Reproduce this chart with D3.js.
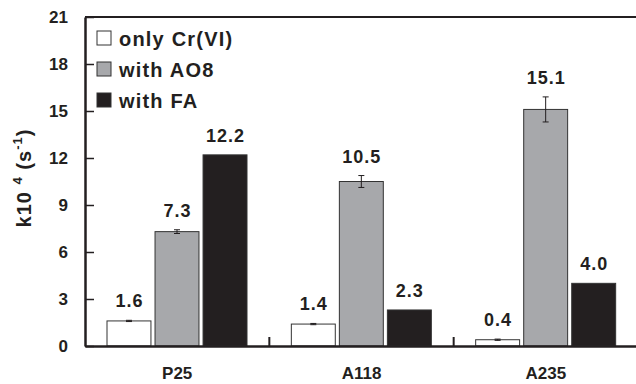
<!DOCTYPE html>
<html>
<head>
<meta charset="utf-8">
<script src="https://cdn.jsdelivr.net/npm/d3@7"></script>
<style>
  body { margin: 0; background: #fff; }
  text { font-family: "Liberation Sans", Arial, sans-serif; font-weight: bold; fill: #231f20; }
</style>
</head>
<body>
<svg id="chart" width="636" height="384"></svg>
<script>
// data
var categories = ["P25", "A118", "A235"];
var series = ["only Cr(VI)", "with AO8", "with FA"];
var onlyCr = [1.6, 1.4, 0.4];
var withAO8 = [7.3, 10.5, 15.1];
var withFA = [12.2, 2.3, 4.0];
var errOnlyCr = [0.04, 0.04, 0.04];
var errAO8 = [0.12, 0.38, 0.8];
var errFA = [0, 0, 0];
var yTicks = [0, 3, 6, 9, 12, 15, 18, 21];

var colors = ["#ffffff", "#a7a8ab", "#231f20"];
var values = [onlyCr, withAO8, withFA];
var errors = [errOnlyCr, errAO8, errFA];

var svg = d3.select("#chart");
var plotLeft = 85, plotTop = 17, plotBottom = 346, plotRight = 638;

var x0 = d3.scaleBand().domain(categories).range([plotLeft, plotRight]).padding(0);
var x1 = d3.scaleBand().domain(series).range([22, 162]).paddingInner(0.085);
var y = d3.scaleLinear().domain([0, 21]).range([plotBottom, plotTop]);

// frame: top border line
svg.append("line")
  .attr("x1", plotLeft).attr("x2", 636)
  .attr("y1", plotTop).attr("y2", plotTop)
  .attr("stroke", "#231f20").attr("stroke-width", 2);

// bars
var rows = [];
categories.forEach(function(c, i) {
  series.forEach(function(s, j) {
    rows.push({cat: c, ser: s, j: j, v: values[j][i], e: errors[j][i]});
  });
});

var g = svg.append("g");
g.selectAll("rect").data(rows).enter().append("rect")
  .attr("x", function(d) { return x0(d.cat) + x1(d.ser); })
  .attr("y", function(d) { return y(d.v); })
  .attr("width", x1.bandwidth())
  .attr("height", function(d) { return y(0) - y(d.v); })
  .attr("fill", function(d) { return colors[d.j]; })
  .attr("stroke", "#333").attr("stroke-width", 1);

// error bars
var eb = g.selectAll(".err").data(rows.filter(function(d) { return d.e > 0; }))
  .enter().append("g").attr("class", "err");
eb.append("line")
  .attr("x1", function(d) { return x0(d.cat) + x1(d.ser) + x1.bandwidth() / 2; })
  .attr("x2", function(d) { return x0(d.cat) + x1(d.ser) + x1.bandwidth() / 2; })
  .attr("y1", function(d) { return y(d.v + d.e); })
  .attr("y2", function(d) { return y(d.v - d.e); })
  .attr("stroke", "#231f20").attr("stroke-width", 1);
[1, -1].forEach(function(sgn) {
  eb.append("line")
    .attr("x1", function(d) { return x0(d.cat) + x1(d.ser) + x1.bandwidth() / 2 - 3; })
    .attr("x2", function(d) { return x0(d.cat) + x1(d.ser) + x1.bandwidth() / 2 + 3; })
    .attr("y1", function(d) { return y(d.v + sgn * d.e); })
    .attr("y2", function(d) { return y(d.v + sgn * d.e); })
    .attr("stroke", "#231f20").attr("stroke-width", 1);
});

// value labels
g.selectAll(".val").data(rows).enter().append("text")
  .attr("class", "val")
  .attr("x", function(d) { return x0(d.cat) + x1(d.ser) + x1.bandwidth() / 2 + 0.5; })
  .attr("y", function(d) { return y(d.v + d.e) - 13; })
  .attr("text-anchor", "middle")
  .style("font-size", "18px")
  .style("letter-spacing", "1px")
  .text(function(d) { return d.v.toFixed(1); });

// y axis
var yAxis = svg.append("g")
  .attr("transform", "translate(" + plotLeft + ",0)")
  .call(d3.axisLeft(y).tickValues(yTicks).tickSizeInner(-9).tickSizeOuter(0).tickPadding(17));
yAxis.select(".domain").attr("stroke", "#231f20").attr("stroke-width", 2.5);
yAxis.selectAll(".tick line").attr("stroke", "#231f20").attr("stroke-width", 1.5);
yAxis.selectAll(".tick text").style("font-size", "17px").attr("fill", "#231f20");

// x axis
var xAxis = svg.append("g")
  .attr("transform", "translate(0," + plotBottom + ")")
  .call(d3.axisBottom(x0).tickSize(0).tickPadding(21));
xAxis.select(".domain").attr("stroke", "#231f20").attr("stroke-width", 2.5);
xAxis.selectAll(".tick text").style("font-size", "17px").attr("fill", "#231f20");
xAxis.selectAll(".sep").data(categories.slice(1)).enter().append("line")
  .attr("class", "sep")
  .attr("x1", function(d) { return x0(d); }).attr("x2", function(d) { return x0(d); })
  .attr("y1", 0).attr("y2", -9)
  .attr("stroke", "#231f20").attr("stroke-width", 2);

// y label
var yl = svg.append("text")
  .attr("transform", "translate(31,178) rotate(-90)")
  .attr("text-anchor", "middle")
  .style("font-size", "20px")
  .style("letter-spacing", "1px");
yl.append("tspan").text("k10 ");
yl.append("tspan").attr("dy", -9).style("font-size", "13px").text("4");
yl.append("tspan").attr("dy", 9).text(" (s");
yl.append("tspan").attr("dy", -9).style("font-size", "13px").text("-1");
yl.append("tspan").attr("dy", 9).text(")");

// legend
var lg = svg.append("g").attr("transform", "translate(97,31)");
var li = lg.selectAll("g").data(series).enter().append("g")
  .attr("transform", function(d, i) { return "translate(0," + i * 31 + ")"; });
li.append("rect")
  .attr("width", 14).attr("height", 14)
  .attr("fill", function(d, i) { return colors[i]; })
  .attr("stroke", "#333").attr("stroke-width", 1);
li.append("text")
  .attr("x", 22).attr("y", 15)
  .style("font-size", "20px")
  .style("letter-spacing", "1.2px")
  .text(function(d) { return d; });
</script>
</body>
</html>
